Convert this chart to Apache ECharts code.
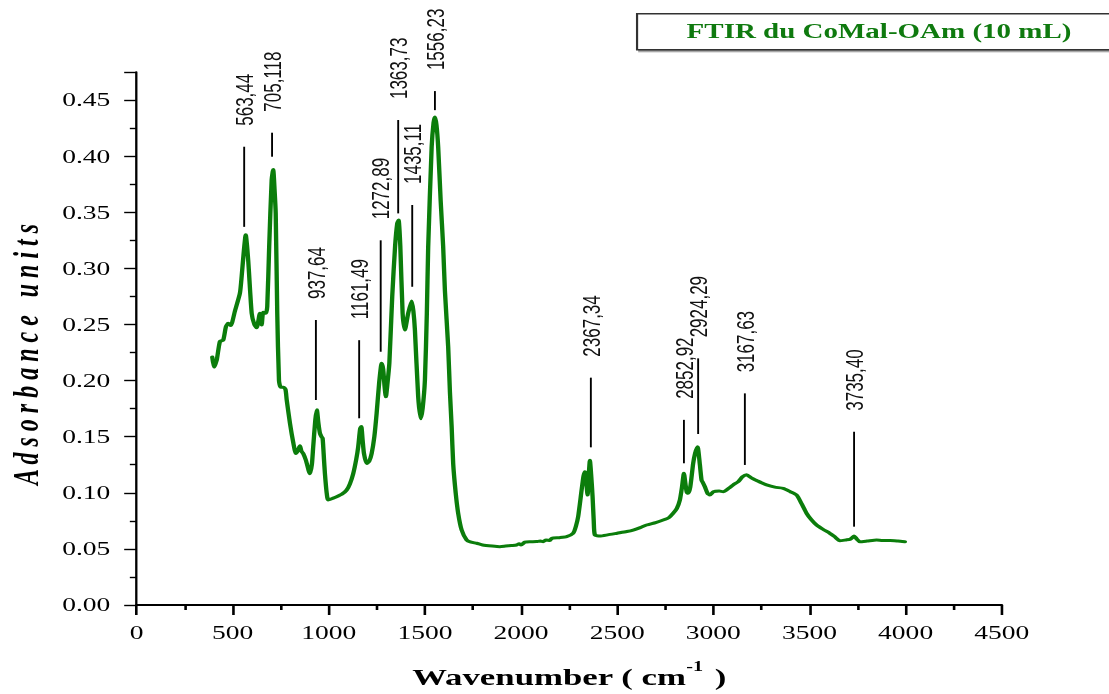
<!DOCTYPE html>
<html>
<head>
<meta charset="utf-8">
<script src="https://cdn.jsdelivr.net/npm/echarts@6/dist/echarts.min.js"></script>
<style>
html,body{margin:0;padding:0;background:#fff;overflow:hidden;width:1109px;height:694px;}
#chart{width:764.83px;height:694px;transform:scaleX(1.45);transform-origin:0 0;}
</style>
</head>
<body>
<div id="chart"></div>
<script>
// Spectrum (wavenumber in cm-1, absorbance)
const wavenumber = [394,403,417,434,451,465,477,490,512,538,547,558,568,581,599,613,625,642,651,659,673,680,690,703,711,718,724,732,741,750,765,775,781,798,815,829,840,850,858,867,881,895,902,912,919,930,938,946,954,962,968,975,980,989,997,1020,1041,1070,1093,1110,1127,1143,1153,1163,1169,1176,1183,1197,1210,1223,1237,1249,1262,1275,1283,1290,1297,1305,1315,1330,1345,1356,1363,1372,1384,1396,1413,1431,1440,1448,1465,1478,1488,1500,1510,1517,1535,1545,1552,1560,1569,1582,1595,1604,1621,1630,1639,1647,1660,1673,1691,1717,1740,1769,1800,1850,1890,1920,1950,1977,1990,2000,2020,2046,2080,2100,2115,2130,2150,2159,2200,2237,2271,2285,2297,2315,2325,2332,2340,2346,2352,2358,2365,2372,2378,2384,2410,2450,2500,2550,2583,2620,2653,2700,2739,2770,2791,2810,2826,2837,2847,2855,2862,2869,2880,2895,2905,2918,2930,2939,2946,2956,2970,2982,3000,3030,3051,3080,3103,3130,3150,3173,3200,3225,3250,3277,3320,3363,3400,3433,3460,3485,3510,3537,3570,3606,3630,3658,3690,3710,3722,3732,3745,3762,3800,3849,3880,3920,3960,3996];
const absorbance = [0.221,0.212,0.218,0.235,0.236,0.248,0.251,0.249,0.262,0.278,0.293,0.315,0.330,0.307,0.260,0.250,0.247,0.260,0.2495,0.261,0.260,0.266,0.319,0.379,0.388,0.370,0.349,0.260,0.200,0.194,0.194,0.192,0.183,0.162,0.145,0.135,0.138,0.142,0.137,0.135,0.129,0.120,0.117,0.125,0.141,0.165,0.174,0.162,0.153,0.150,0.1485,0.130,0.117,0.100,0.0936,0.095,0.0965,0.099,0.1025,0.108,0.117,0.130,0.141,0.157,0.159,0.147,0.135,0.126,0.128,0.135,0.150,0.171,0.198,0.2154,0.210,0.195,0.1856,0.197,0.2154,0.275,0.320,0.340,0.343,0.320,0.260,0.245,0.260,0.271,0.262,0.245,0.1856,0.166,0.175,0.2005,0.260,0.319,0.408,0.430,0.435,0.428,0.408,0.360,0.319,0.280,0.230,0.190,0.159,0.126,0.100,0.0817,0.0668,0.058,0.056,0.055,0.0535,0.0525,0.052,0.0525,0.053,0.0535,0.0545,0.0535,0.056,0.0564,0.0565,0.057,0.0564,0.058,0.0575,0.0594,0.060,0.0609,0.0639,0.070,0.0787,0.1025,0.115,0.1188,0.108,0.098,0.115,0.129,0.115,0.0965,0.075,0.0624,0.0615,0.0625,0.064,0.0655,0.0668,0.069,0.0713,0.0735,0.0757,0.078,0.0817,0.086,0.0936,0.105,0.1174,0.108,0.1005,0.0995,0.105,0.126,0.135,0.141,0.125,0.111,0.109,0.1054,0.0995,0.098,0.101,0.1015,0.101,0.104,0.107,0.110,0.114,0.116,0.113,0.111,0.109,0.107,0.105,0.104,0.101,0.098,0.090,0.0817,0.076,0.0713,0.0675,0.0639,0.061,0.0573,0.058,0.0585,0.060,0.0615,0.059,0.0564,0.057,0.0579,0.0575,0.0575,0.057,0.0564];

// Peak annotations
const peakPositions = [560,705,933,1158,1270,1361,1434,1552,2363,2847,2921,3164,3732];
const peakLabels = ['563,44','705,118','937,64','1161,49','1272,89','1363,73','1435,11','1556,23','2367,34','2852,92','2924,29','3167,63','3735,40'];
const peakLineBottom = [0.337,0.3995,0.1827,0.1664,0.2257,0.349,0.2836,0.441,0.1405,0.1263,0.1524,0.1248,0.0698];
const peakLineTop = [0.4084,0.4209,0.254,0.236,0.325,0.4322,0.3565,0.458,0.2026,0.165,0.2198,0.1886,0.1544];

const titleText = 'FTIR du CoMal-OAm (10 mL)';
const yTitle = 'A d s o r b a n c e   u n i t s';

const chart = echarts.init(document.getElementById('chart'), null, {renderer: 'svg'});
const lineData = wavenumber.map((w, i) => [w, absorbance[i]]);
const annData = peakPositions.map((p, i) => [p, peakLineBottom[i], peakLineTop[i], i]);
const serif = 'Liberation Serif, Times New Roman, serif';

chart.setOption({
  animation: false,
  backgroundColor: '#fff',
  grid: {left: 94.14, right: 74.14, top: 72, bottom: 89, containLabel: false},
  xAxis: {
    type: 'value', min: 0, max: 4500, interval: 500,
    name: '{b|Wavenumber ( cm}{s|-1}{b| )}',
    nameLocation: 'middle', nameGap: 54,
    nameTextStyle: {
      rich: {
        b: {fontFamily: serif, fontWeight: 'bold', fontSize: 24, color: '#000', lineHeight: 30, verticalAlign: 'bottom'},
        s: {fontFamily: serif, fontWeight: 'bold', fontSize: 14, color: '#000', lineHeight: 30, verticalAlign: 'top', padding: [0, 2, 0, 0]}
      }
    },
    axisLine: {show: true, onZero: false, lineStyle: {color: '#000', width: 2}},
    axisTick: {show: true, inside: false, length: 10, lineStyle: {color: '#000', width: 1.8}},
    minorTick: {show: true, splitNumber: 2, length: 5, lineStyle: {color: '#000', width: 1.8}},
    axisLabel: {margin: 18, fontFamily: serif, fontSize: 19, color: '#000', formatter: v => String(v)},
    splitLine: {show: false}
  },
  yAxis: {
    type: 'value', min: 0, max: 0.475, interval: 0.05,
    axisLine: {show: true, onZero: false, lineStyle: {color: '#000', width: 1.6}},
    axisTick: {show: true, inside: false, length: 8.5, lineStyle: {color: '#000', width: 1.4}},
    minorTick: {show: true, splitNumber: 2, length: 4.6, lineStyle: {color: '#000', width: 1.4}},
    axisLabel: {margin: 18, fontFamily: serif, fontSize: 19, color: '#000', showMaxLabel: false,
      formatter: v => v.toFixed(2)},
    splitLine: {show: false}
  },
  graphic: [
    {type: 'rect', left: 438.6, top: 13, shape: {width: 340, height: 36},
      style: {fill: '#fff', stroke: '#333', lineWidth: 1.5, shadowColor: 'rgba(0,0,0,0.45)', shadowOffsetX: 1.5, shadowOffsetY: 1.5, shadowBlur: 1}},
    {type: 'text', x: 606.2, y: 31,
      style: {text: titleText, fill: '#0f7a0f', font: 'bold 20px ' + serif, align: 'center', verticalAlign: 'middle'}},
    {type: 'text', x: 17.9, y: 354.5, rotation: Math.PI / 2,
      style: {text: yTitle, fill: '#000', font: 'italic bold 24px ' + serif, align: 'center', verticalAlign: 'middle'}}
  ],
  series: [
    {
      type: 'line', data: lineData, showSymbol: false, symbol: 'none',
      smooth: 0.2,
      lineStyle: {color: '#0b7d0b', width: 3, join: 'round', cap: 'round'}, z: 3
    },
    {
      type: 'custom', data: annData, z: 4,
      renderItem: function (params, api) {
        const x = api.value(0);
        const p1 = api.coord([x, api.value(1)]);
        const p2 = api.coord([x, api.value(2)]);
        const label = peakLabels[api.value(3)];
        return {
          type: 'group',
          children: [
            {type: 'line', shape: {x1: p1[0], y1: p1[1], x2: p2[0], y2: p2[1]},
              style: {stroke: '#000', lineWidth: 1.3}},
            {type: 'text', x: p2[0], y: p2[1] - 21, rotation: Math.PI / 2,
              style: {text: label, fill: '#111', font: '17px Liberation Sans, Arial, sans-serif', align: 'left', verticalAlign: 'middle'}}
          ]
        };
      }
    }
  ]
});
</script>
</body>
</html>
